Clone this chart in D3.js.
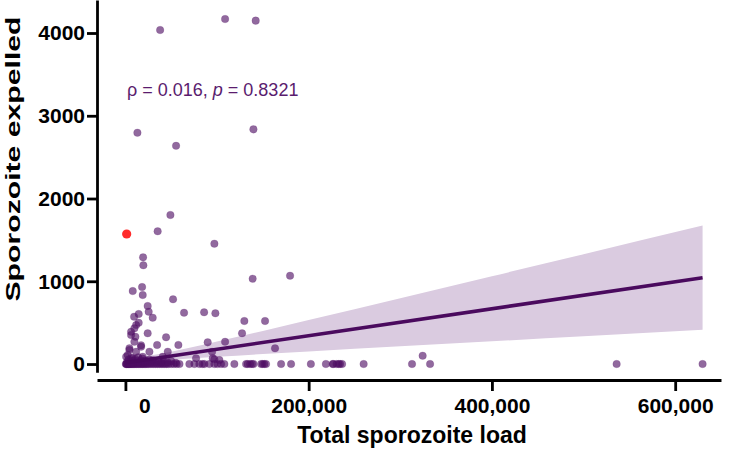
<!DOCTYPE html>
<html><head><meta charset="utf-8">
<script src="https://cdn.jsdelivr.net/npm/d3@7"></script>
<style>body{margin:0;background:#fff}svg{display:block}text{font-family:"Liberation Sans",Arial,sans-serif}</style>
</head><body><svg id="c" width="735" height="451"></svg>
<script>
// ---- data ----
const loadX = [
 37900,108800,142200,13100,139700,55300,49100,35200,97100,19300,19600,138900,179700,
 18200,8000,18900,52000,24300,25400,14500,9500,29800,64000,85900,98200,129800,152400,
 11700,9800,6200,24300,127300,10900,44400,9800,57800,89800,108800,34600,17100,4400,
 26200,163300,46200,2500,40700,18900,77100,95300,94600,97100,102600,324400,
 14500,6200,17100,4400,11700,800,8000,
 // low-value cluster
 2000,3500,5000,6500,8000,9500,11000,12500,14000,15500,17000,18500,20000,22000,24000,
 26000,28000,30000,33000,36000,39000,42000,46000,50000,55000,
 // zero row
 500,1000,1500,2000,3000,3500,4500,5000,6000,7000,8000,9000,10000,11500,12500,14000,
 15000,16500,18000,19000,20500,22000,23500,25000,27000,29000,31000,33000,35000,37000,
 39000,41000,43000,45000,47000,50000,53000,56000,59000,
 69800,75300,80700,84000,86200,91700,97100,100400,104400,108000,118900,131700,133400,
 136100,138200,139700,148100,149800,151700,153500,169900,180800,202400,218800,226200,
 227000,230500,232700,234300,236500,260000,312800,332500,536100,629900
];
const expelledY = [
 4036,4169,4149,2795,2836,2637,1801,1604,1454,1289,1193,1031,1067,
 930,882,834,782,701,632,604,572,560,620,625,613,520,520,
 471,431,390,371,371,330,323,269,230,262,269,230,209,190,
 149,190,149,109,88,88,69,69,149,57,48,100,
 499,350,226,169,149,88,69,
 30,55,20,75,40,15,60,35,80,25,45,65,15,40,30,
 55,20,45,25,35,15,50,20,35,15,
 0,0,0,0,0,0,0,0,0,0,0,0,0,0,0,0,
 0,0,0,0,0,0,0,0,0,0,0,0,0,0,
 0,0,0,0,0,0,0,0,0,
 0,0,0,0,0,0,0,0,0,0,0,0,0,
 0,0,0,0,0,0,0,0,0,0,0,0,0,
 0,0,0,0,0,0,0,0,0
];
const highlightX = [1400];
const highlightY = [1571];
const fitX = [0, 629900];
const fitY = [16, 1043];
const bandX =     [0,   20000, 50000, 100000, 150000, 200000, 300000, 400000, 500000, 629900];
const bandLower = [-29, 9,     47,    87,     121,    152,    214,    275,    335,    414];
const bandUpper = [61,  89,    148,   271,    400,    532,    796,    1061,   1327,   1673];
const xTicks = [0, 200000, 400000, 600000];
const yTicks = [0, 1000, 2000, 3000, 4000];
const xTitle = "Total sporozoite load";
const yTitle = "Sporozoite expelled";

// ---- drawing ----
const svg = d3.select("#c");
const x = d3.scaleLinear().domain([-31000, 650000]).range([97, 721]);
const y = d3.scaleLinear().domain([-100, 4400]).range([372.3, -0.1]);
const purple = "#4e0d63";

// CI band
const band = bandX.map((v,i)=>({x:v, lo:bandLower[i], hi:bandUpper[i]}));
svg.append("path").datum(band)
  .attr("fill", "#dacbe0")
  .attr("d", d3.area().x(d=>x(d.x)).y0(d=>y(d.lo)).y1(d=>y(d.hi)).curve(d3.curveMonotoneX));

// points
const pts = loadX.map((v,i)=>({x:v, y:expelledY[i]}));
svg.append("g").selectAll("circle").data(pts).join("circle")
  .attr("cx", d=>x(d.x)).attr("cy", d=>y(d.y)).attr("r", 3.8)
  .attr("fill", purple).attr("fill-opacity", 0.62)
  .attr("stroke", purple).attr("stroke-opacity", 0.25).attr("stroke-width", 0.6);

// fit line
const fit = fitX.map((v,i)=>({x:v, y:fitY[i]}));
svg.append("path").datum(fit)
  .attr("fill", "none").attr("stroke", "#4a0a5e").attr("stroke-width", 3.6)
  .attr("d", d3.line().x(d=>x(d.x)).y(d=>y(d.y)));

// highlighted point
svg.append("g").selectAll("circle").data(highlightX.map((v,i)=>({x:v,y:highlightY[i]}))).join("circle")
  .attr("cx", d=>x(d.x)).attr("cy", d=>y(d.y)).attr("r", 4.6).attr("fill", "#ff2b2b");

// axes
const yAxis = svg.append("g").attr("transform", "translate(97,0)")
  .call(d3.axisLeft(y).tickValues(yTicks).tickFormat(d3.format("d")).tickSize(10).tickSizeOuter(0).tickPadding(2));
const xAxis = svg.append("g").attr("transform", "translate(0,380)")
  .call(d3.axisBottom(x).tickValues(xTicks).tickFormat(d3.format(",")).tickSize(11).tickSizeOuter(0).tickPadding(7));
[yAxis, xAxis].forEach(g=>{
  g.selectAll("path.domain").attr("stroke", "#000").attr("stroke-width", 2.8);
  g.selectAll(".tick line").attr("stroke", "#000").attr("stroke-width", 2.8);
  g.selectAll(".tick text").attr("fill", "#000").attr("font-size", 21).attr("font-weight", "bold")
    .attr("font-family", '"Liberation Sans",Arial,sans-serif');
});
xAxis.selectAll(".tick text").filter(d=>d===0).attr("dx", 19);

// titles
svg.append("text").attr("x", 412).attr("y", 443).attr("text-anchor", "middle")
  .attr("font-size", 23).attr("font-weight", "bold").attr("fill", "#000").text(xTitle);
svg.append("text").attr("transform", "translate(20,159) rotate(-90)").attr("text-anchor", "middle")
  .attr("font-size", 21).attr("font-weight", "bold").attr("fill", "#000")
  .attr("textLength", 285).attr("lengthAdjust", "spacingAndGlyphs").text(yTitle);

// annotation
const ann = svg.append("text").attr("x", 127).attr("y", 96).attr("font-size", 18).attr("fill", "#5a1c6e");
ann.append("tspan").text("ρ = 0.016, ");
ann.append("tspan").attr("font-style", "italic").text("p");
ann.append("tspan").text(" = 0.8321");
</script></body></html>
